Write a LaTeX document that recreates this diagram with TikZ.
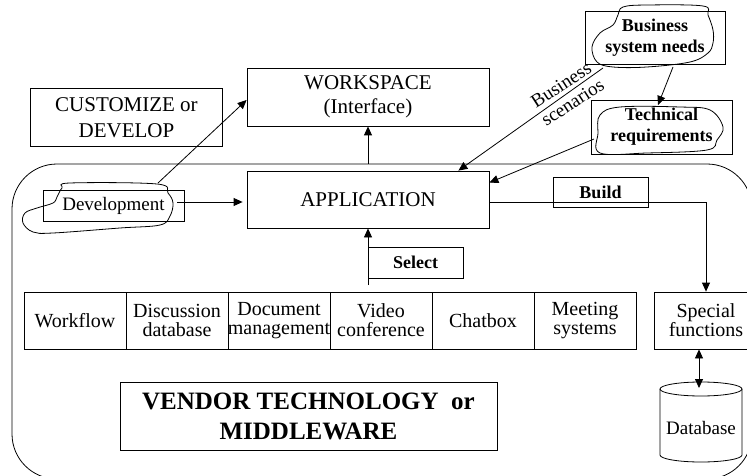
\documentclass[tikz,border=0pt]{standalone}
\usepackage{fontspec}
\setmainfont{Liberation Serif}
\usetikzlibrary{arrows.meta,calc}

\begin{document}
\begin{tikzpicture}[x=1pt,y=-1pt,
  line width=0.8pt,
  box/.style={draw, line width=0.8pt, inner sep=0pt, align=center},
  cell/.style={box, minimum width=102pt, minimum height=57pt,
    font=\fontsize{20}{19}\selectfont},
  tri/.style={-{Triangle[length=9pt,width=8pt]}},
  dtri/.style={{Triangle[length=9pt,width=8pt]}-{Triangle[length=9pt,width=8pt]}},
  cloud/.style={line width=0.7pt, smooth cycle, tension=0.6},
  bigbold/.style={font=\fontsize{25}{30}\selectfont\bfseries},
  midbold/.style={font=\fontsize{18}{21}\selectfont\bfseries}
]
\useasboundingbox (0,0) rectangle (747,476);

% outer vendor frame
\draw[rounded corners=45pt] (12,164) rectangle (752,479);

% upper boxes
\node[box, minimum width=192pt, minimum height=58pt,
      font=\fontsize{21}{26}\selectfont] (cust) at (126.5,117.5) {CUSTOMIZE or\\DEVELOP};
\node[box, minimum width=242pt, minimum height=58pt,
      font=\fontsize{21}{24}\selectfont] (ws) at (368,97) {WORKSPACE\\(Interface)};
\node[box, minimum width=242pt, minimum height=57pt,
      font=\fontsize{21}{24}\selectfont] (app) at (368,199.5) {APPLICATION};
\node[box, minimum width=141pt, minimum height=31pt,
      font=\fontsize{19}{22}\selectfont] (dev) at (113.5,205.5) {Development};

\node[box, minimum width=140pt, minimum height=53pt, midbold] (bsn) at (655,37.5) {Business\\system needs};
\node[box, minimum width=141pt, minimum height=54pt, midbold] (tr) at (661.5,127) {Technical\\requirements};
\node[box, minimum width=95pt, minimum height=30pt, midbold] (build) at (600.5,192) {Build};
\node[box, minimum width=95pt, minimum height=31pt, midbold] (sel) at (415.5,262.5) {Select};

% hand-drawn outlines around key labels
\draw plot[cloud] coordinates {(70,183) (157,184) (168,193) (173,203) (170,216) (160,225)
  (120,228) (53,233) (33,232) (23,223) (25,213) (37,208) (53,203) (57,197) (62,188)};
\draw plot[cloud] coordinates {(623,7) (647,5) (703,6) (708,15) (713,30) (713,43) (708,53)
  (690,62) (647,67) (613,67) (597,62) (592,47) (600,33) (613,25) (618,15)};
\draw plot[cloud] coordinates {(620,107) (680,107) (710,110) (723,127) (717,140) (707,150)
  (647,153) (600,153) (598,133) (600,115)};

% vendor components
\node[cell] (wf)   at (75,320.5)  {Workflow};
\node[cell] (disc) at (177,320.5) {Discussion\\database};
\node[cell] (doc)  at (279,320.5) {Document\\management};
\node[cell] (vid)  at (381,320.5) {Video\\conference};
\node[cell] (chat) at (483,320.5) {Chatbox};
\node[cell] (meet) at (585,320.5) {Meeting\\systems};
\node[cell, minimum width=104pt] (sf) at (706,320.5) {Special\\functions};

\node[box, minimum width=377pt, minimum height=68pt, bigbold] (vendor) at (308.5,416)
  {VENDOR TECHNOLOGY\ \ or\\MIDDLEWARE};

% database cylinder
\draw (660,389) -- (660,455) arc[start angle=180, end angle=0, x radius=41, y radius=7] -- (742,389);
\draw (701,389) ellipse [x radius=41, y radius=7];
\node[font=\fontsize{19}{22}\selectfont] (db) at (701,428) {Database};
\coordinate (dbtop) at (699,388);

% connector end points
\coordinate (frametop) at (368,164);
\coordinate (devout) at (158,183);
\coordinate (devright) at (177,202);
\coordinate (bsnlow) at (603,68);
\coordinate (bsnfoot) at (673,67);
\coordinate (trtop) at (658,105);
\coordinate (trleft) at (594,139);
\coordinate (selfoot) at (368,285);

% connectors
\draw[tri] (frametop) -- (ws.south);
\draw[tri] (devout) -- ([yshift=-3pt]ws.west);
\draw[tri, shorten >=4pt] (devright) -- (devright -| app.west);
\draw[tri] (bsnlow) -- node[pos=0.25, rotate=33, align=center, inner sep=0pt,
   font=\fontsize{19}{21}\selectfont] {Business\\scenarios} ([xshift=-31pt]app.north east);
\draw[tri] (bsnfoot) -- (trtop);
\draw[tri] (trleft) -- ([yshift=-12pt]app.north east);
\draw[tri] ([yshift=-3pt]app.east) -| (sf.north);
\draw[tri] (selfoot) -- (app.south);
\draw[dtri] (sf.south -| dbtop) -- (dbtop);
\end{tikzpicture}
\end{document}
